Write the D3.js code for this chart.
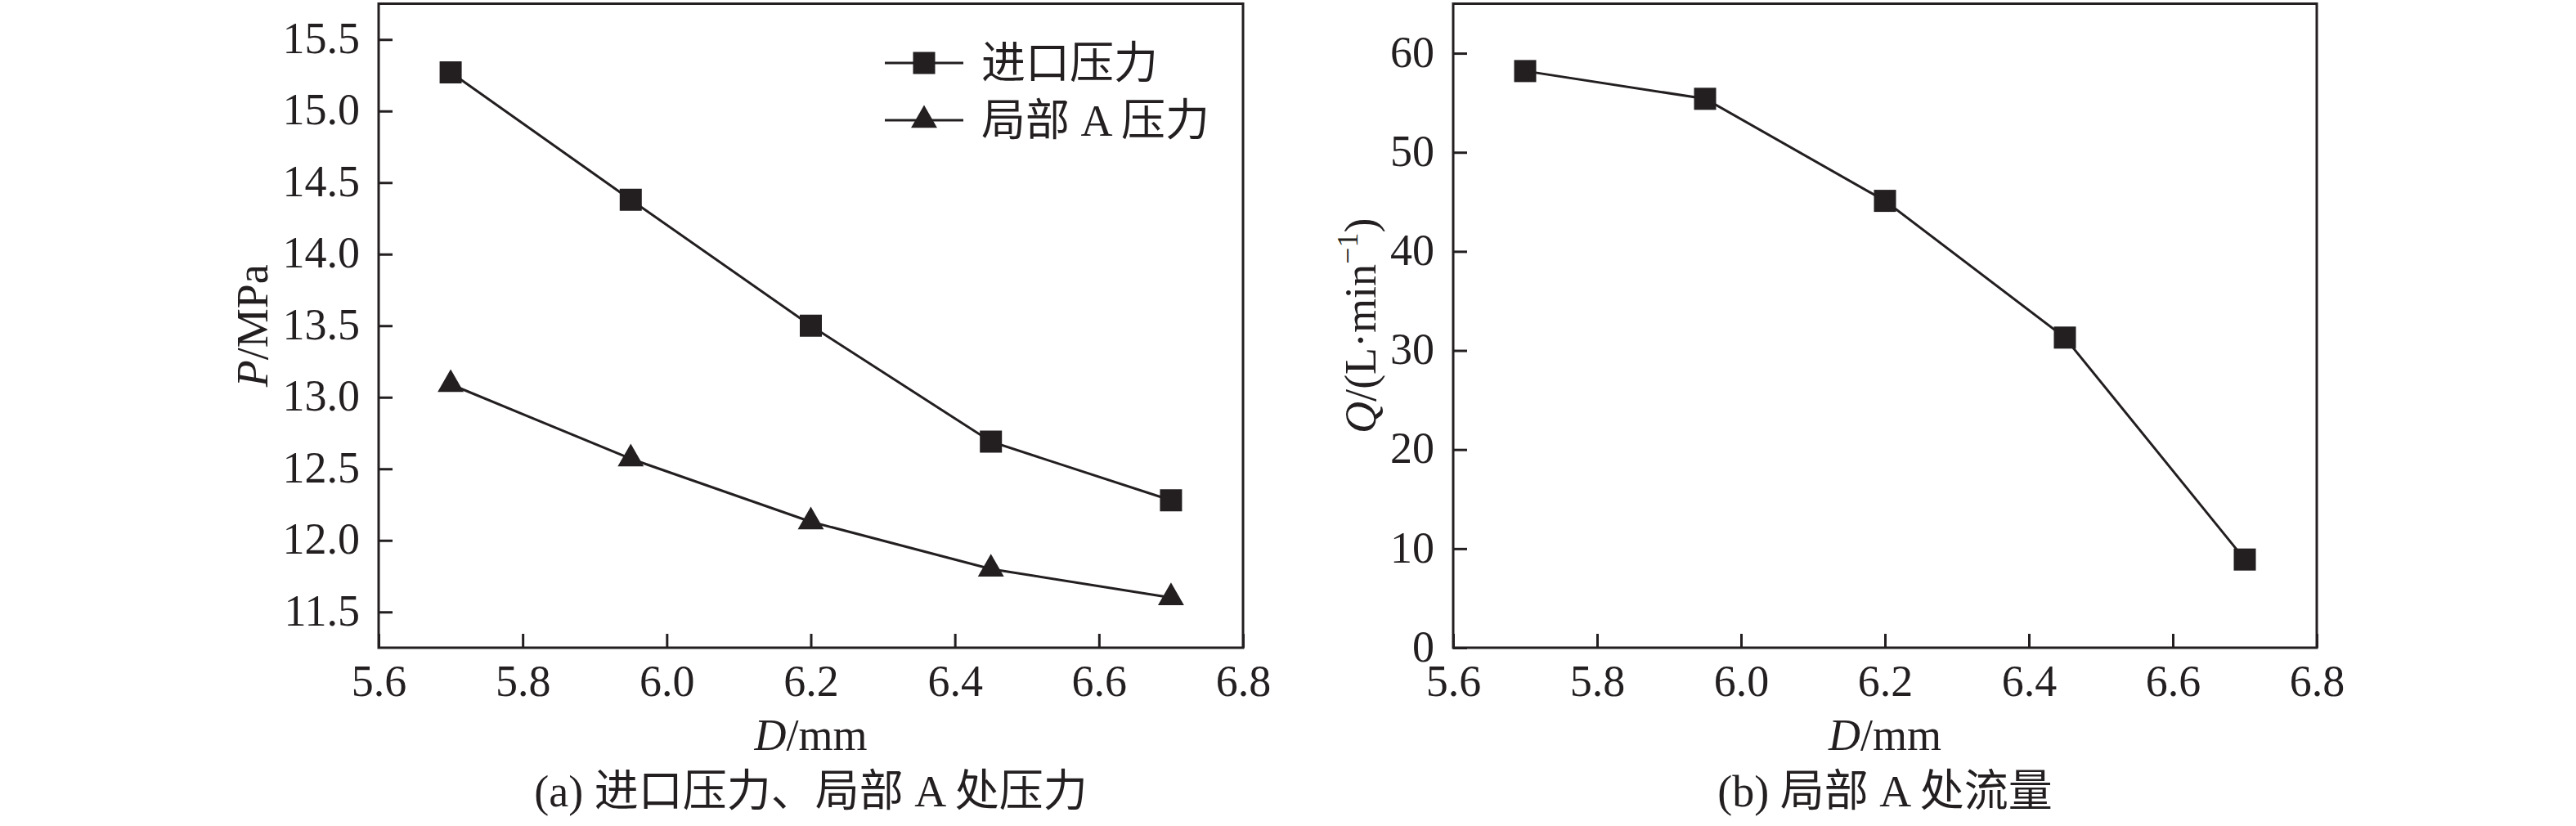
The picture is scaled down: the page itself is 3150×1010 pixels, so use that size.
<!DOCTYPE html>
<html>
<head>
<meta charset="utf-8">
<script src="https://cdn.jsdelivr.net/npm/d3@7"></script>
<style>
  html, body { margin: 0; padding: 0; background: #fff; }
  svg { display: block; }
</style>
</head>
<body>
<svg id="chart" width="3150" height="1010"></svg>
<script>
// values
const diameters = [5.7, 5.95, 6.2, 6.45, 6.7];
const inletPressure = [15.27, 14.38, 13.5, 12.69, 12.28];
const localAPressure = [13.09, 12.57, 12.13, 11.8, 11.6];
const localAFlow = [58.2, 55.4, 45.1, 31.3, 8.9];

const xTicks = [5.6, 5.8, 6.0, 6.2, 6.4, 6.6, 6.8];
const pressureTicks = [11.5, 12.0, 12.5, 13.0, 13.5, 14.0, 14.5, 15.0, 15.5];
const flowTicks = [0, 10, 20, 30, 40, 50, 60];

const legendLabels = ["进口压力", "局部 A 压力"];
const captions = ["(a) 进口压力、局部 A 处压力", "(b) 局部 A 处流量"];

const INK = "#231f20";
const FONT = "'Liberation Serif', 'Times New Roman', 'Noto Sans CJK SC', serif";
const FONT_SIZE = 54;
const TICK_LEN = 17;

const svg = d3.select("#chart");
svg.append("rect").attr("width", 3150).attr("height", 1010).attr("fill", "#fff");

const PLOT_TOP = 4.5;
const PLOT_BOTTOM = 792;

const squareSym = d3.symbol().type(d3.symbolSquare).size(729);
const triangleSym = d3.symbol().type(d3.symbolTriangle).size(440);

function drawPanel({ left, right, yDomain, yTicks, yFormat, series, yLabel, yLabelX, caption }) {
  const x = d3.scaleLinear().domain([5.6, 6.8]).range([left, right]);
  const y = d3.scaleLinear().domain(yDomain).range([PLOT_BOTTOM, PLOT_TOP]);
  const g = svg.append("g");

  const xAxis = g.append("g")
    .attr("transform", `translate(0,${PLOT_BOTTOM})`)
    .call(d3.axisBottom(x).tickValues(xTicks).tickFormat(d3.format(".1f"))
      .tickSizeInner(-TICK_LEN).tickSizeOuter(0).tickPadding(21));

  const yAxis = g.append("g")
    .attr("transform", `translate(${left},0)`)
    .call(d3.axisLeft(y).tickValues(yTicks).tickFormat(yFormat)
      .tickSizeInner(-TICK_LEN).tickSizeOuter(0).tickPadding(23));

  [xAxis, yAxis].forEach((ax) => {
    ax.select(".domain").remove();
    ax.selectAll(".tick line").attr("stroke", INK).attr("stroke-width", 3);
    ax.selectAll(".tick text")
      .attr("fill", INK)
      .attr("font-family", FONT)
      .attr("font-size", FONT_SIZE);
  });
  yAxis.selectAll(".tick text").attr("dy", "0.3em");

  // frame
  g.append("rect")
    .attr("x", left).attr("y", PLOT_TOP)
    .attr("width", right - left).attr("height", PLOT_BOTTOM - PLOT_TOP)
    .attr("fill", "none").attr("stroke", INK).attr("stroke-width", 3);

  const line = d3.line().x((d) => x(d[0])).y((d) => y(d[1]));

  for (const s of series) {
    const pts = diameters.map((d, i) => [d, s.values[i]]);
    g.append("path")
      .datum(pts)
      .attr("d", line)
      .attr("fill", "none")
      .attr("stroke", INK)
      .attr("stroke-width", 3);
    g.selectAll(null)
      .data(pts)
      .join("path")
      .attr("transform", (d) => `translate(${x(d[0])},${y(d[1])})`)
      .attr("d", s.symbol)
      .attr("fill", INK);
  }

  // y label
  const yl = g.append("text")
    .attr("transform", `translate(${yLabelX},${(PLOT_TOP + PLOT_BOTTOM) / 2}) rotate(-90)`)
    .attr("text-anchor", "middle")
    .attr("font-family", FONT)
    .attr("font-size", FONT_SIZE)
    .attr("fill", INK);
  yLabel(yl);

  // x label
  const cx = (left + right) / 2;
  const xl = g.append("text")
    .attr("x", cx).attr("y", 917)
    .attr("text-anchor", "middle")
    .attr("font-family", FONT)
    .attr("font-size", FONT_SIZE)
    .attr("fill", INK);
  xl.append("tspan").attr("font-style", "italic").text("D");
  xl.append("tspan").text("/mm");

  g.append("text")
    .attr("x", cx).attr("y", 986)
    .attr("text-anchor", "middle")
    .attr("font-family", FONT)
    .attr("font-size", FONT_SIZE)
    .attr("fill", INK)
    .text(caption);

  return { g, x, y };
}

const panelA = drawPanel({
  left: 463,
  right: 1520,
  yDomain: [11.25, 15.75],
  yTicks: pressureTicks,
  yFormat: d3.format(".1f"),
  series: [
    { values: inletPressure, symbol: squareSym },
    { values: localAPressure, symbol: triangleSym },
  ],
  yLabel: (t) => {
    t.append("tspan").attr("font-style", "italic").text("P");
    t.append("tspan").text("/MPa");
  },
  yLabelX: 327,
  caption: captions[0],
});

drawPanel({
  left: 1777,
  right: 2833,
  yDomain: [0, 65],
  yTicks: flowTicks,
  yFormat: d3.format("d"),
  series: [{ values: localAFlow, symbol: squareSym }],
  yLabel: (t) => {
    t.append("tspan").attr("font-style", "italic").text("Q");
    t.append("tspan").text("/(L·min");
    t.append("tspan").attr("font-size", 36).attr("dy", -22).text("−1");
    t.append("tspan").attr("dy", 22).text(")");
  },
  yLabelX: 1682,
  caption: captions[1],
});

// legend for panel (a)
const legend = panelA.g.append("g");
const legendRows = [
  { label: legendLabels[0], symbol: squareSym, y: 77 },
  { label: legendLabels[1], symbol: triangleSym, y: 147 },
];
legendRows.forEach((r) => {
  legend.append("line")
    .attr("x1", 1082).attr("x2", 1178)
    .attr("y1", r.y).attr("y2", r.y)
    .attr("stroke", INK).attr("stroke-width", 3);
  legend.append("path")
    .attr("transform", `translate(1130,${r.y})`)
    .attr("d", r.symbol)
    .attr("fill", INK);
  legend.append("text")
    .attr("x", 1200).attr("y", r.y + 19)
    .attr("font-family", FONT)
    .attr("font-size", FONT_SIZE)
    .attr("fill", INK)
    .text(r.label);
});
</script>
</body>
</html>
